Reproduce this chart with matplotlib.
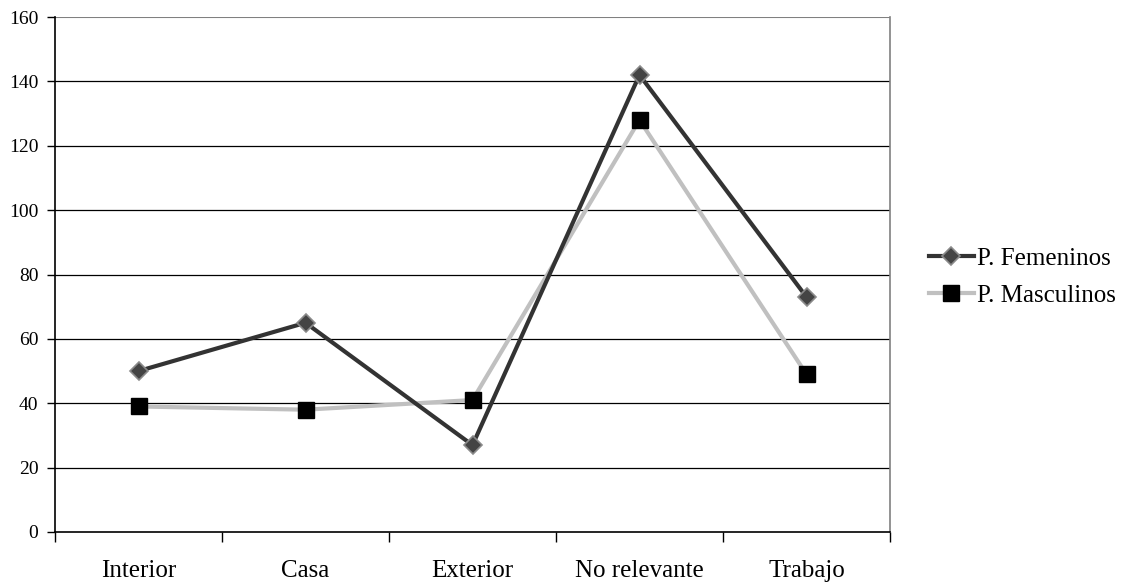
import matplotlib
matplotlib.use('Agg')
import matplotlib.pyplot as plt

categories = ['Interior', 'Casa', 'Exterior', 'No relevante', 'Trabajo']
femeninos = [50, 65, 27, 142, 73]
masculinos = [39, 38, 41, 128, 49]
yticks = [0, 20, 40, 60, 80, 100, 120, 140, 160]

plt.rcParams['font.family'] = ['Liberation Serif', 'DejaVu Serif']

fig = plt.figure(figsize=(11.33, 5.84), dpi=100)
ax = fig.add_axes([55/1133, 52/584, 835/1133, 515/584])

pos = [i + 0.5 for i in range(len(categories))]

ax.plot(pos, masculinos, color='#c0c0c0', linewidth=3, marker='s',
        markersize=11, markerfacecolor='black', markeredgecolor='black',
        label='P. Masculinos', zorder=3)
ax.plot(pos, femeninos, color='#333333', linewidth=3, marker='D',
        markersize=9.5, markerfacecolor='#444444', markeredgecolor='#8a8a8a',
        markeredgewidth=1.2, label='P. Femeninos', zorder=4)

ax.set_xlim(0, len(categories))
ax.set_ylim(0, 160)
ax.set_yticks(yticks)
ax.tick_params(axis='y', labelsize=14, length=6, width=1, direction='out', pad=6)
for y in yticks[1:-1]:
    ax.axhline(y, color='black', linewidth=0.9, zorder=1)
ax.axhline(160, color='#808080', linewidth=1.5, zorder=1)

ax.set_xticks(range(len(categories) + 1))
ax.set_xticklabels([])
ax.set_xticks(pos, minor=True)
ax.set_xticklabels(categories, minor=True, fontsize=18)
ax.tick_params(axis='x', which='major', length=7, width=1, direction='out')
ax.tick_params(axis='x', which='minor', length=0, pad=20)

ax.spines['top'].set_visible(False)
ax.spines['right'].set_color('#808080')
ax.spines['right'].set_linewidth(1.2)
ax.spines['left'].set_linewidth(1.2)
ax.spines['bottom'].set_linewidth(1.2)

handles, labels = ax.get_legend_handles_labels()
fig.legend(handles[::-1], labels[::-1], loc='center left',
           bbox_to_anchor=(906/1133, 1 - 277/584), frameon=False,
           fontsize=18, handlelength=1.8, handletextpad=0.15, labelspacing=0.6)

fig.savefig('out.png', dpi=100)
